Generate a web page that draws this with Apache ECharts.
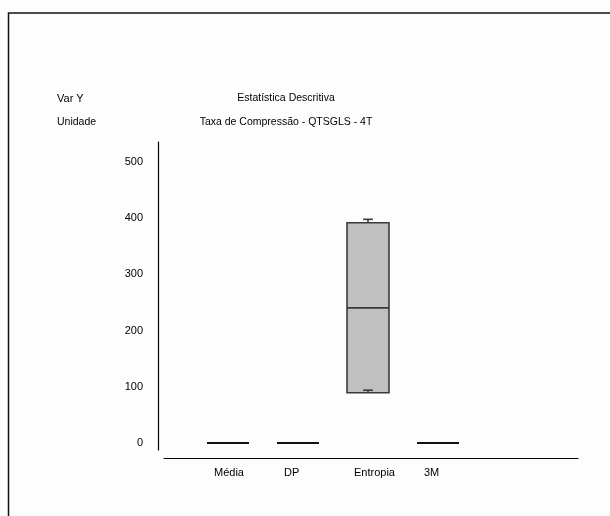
<!DOCTYPE html>
<html>
<head>
<meta charset="utf-8">
<script src="https://cdn.jsdelivr.net/npm/echarts@6/dist/echarts.min.js"></script>
<style>
html,body{margin:0;padding:0;background:#fdfdfd;}
#chart{width:610px;height:516px;}
</style>
</head>
<body>
<div id="chart"></div>
<script>
// ---- data ----
var categories = ['Média', 'DP', 'Entropia', '3M'];
var minV    = [0, 0, 94, 0];
var q1V     = [0, 0, 89.5, 0];
var medianV = [0, 0, 240.5, 0];
var q3V     = [0, 0, 392, 0];
var maxV    = [0, 0, 398, 0];
var yTicks  = [0, 100, 200, 300, 400, 500];

var FONT = 'Liberation Sans, Arial, sans-serif';
var chart = echarts.init(document.getElementById('chart'), null, {renderer: 'canvas'});

// category axis padded so the four groups sit where the original placed them
var xCats = [''].concat(categories).concat(['', '']);
var boxData = categories.map(function (c, i) {
  return [i + 1, minV[i], q1V[i], medianV[i], q3V[i], maxV[i]];
});

function renderBox(params, api) {
  var x = api.value(0);
  var pMin = api.coord([x, api.value(1)]);
  var pQ1 = api.coord([x, api.value(2)]);
  var pMed = api.coord([x, api.value(3)]);
  var pQ3 = api.coord([x, api.value(4)]);
  var pMax = api.coord([x, api.value(5)]);
  var band = api.size([1, 0])[0];
  var w = band * 0.6;
  var cap = band * 0.14;
  var cx = pMed[0];
  var flat = Math.abs(pQ1[1] - pQ3[1]) < 1;
  var stroke = flat ? '#111' : '#3a3a3a';
  var lw = flat ? 2 : 1.6;
  var children = [
    {type: 'line', shape: {x1: cx, y1: pQ3[1], x2: cx, y2: pMax[1]}, style: {stroke: stroke, lineWidth: lw}},
    {type: 'line', shape: {x1: cx - cap / 2, y1: pMax[1], x2: cx + cap / 2, y2: pMax[1]}, style: {stroke: stroke, lineWidth: lw}},
    {type: 'rect', shape: {x: cx - w / 2, y: pQ3[1], width: w, height: pQ1[1] - pQ3[1]},
      style: {fill: '#c0c0c0', stroke: stroke, lineWidth: lw}},
    {type: 'line', shape: {x1: cx - w / 2, y1: pMed[1], x2: cx + w / 2, y2: pMed[1]}, style: {stroke: stroke, lineWidth: lw}},
    {type: 'line', shape: {x1: cx, y1: pQ1[1], x2: cx, y2: pMin[1]}, style: {stroke: stroke, lineWidth: lw}},
    {type: 'line', shape: {x1: cx - cap / 2, y1: pMin[1], x2: cx + cap / 2, y2: pMin[1]}, style: {stroke: stroke, lineWidth: lw}}
  ];
  return {type: 'group', children: children};
}

var tStyle = {fontSize: 10.5, fontWeight: 'normal', color: '#000', fontFamily: FONT};
var tStyleL = {fontSize: 11, fontWeight: 'normal', color: '#000', fontFamily: FONT};

var option = {
  backgroundColor: '#fdfdfd',
  animation: false,
  textStyle: {fontFamily: FONT},
  title: [
    {text: 'Var Y', left: 57, top: 93, padding: 0, textStyle: tStyleL},
    {text: 'Unidade', left: 57, top: 117, padding: 0, textStyle: tStyle},
    {text: 'Estatística Descritiva', left: 286, top: 93, padding: 0, textAlign: 'center', textStyle: tStyle},
    {text: 'Taxa de Compressão - QTSGLS - 4T', left: 286, top: 117, padding: 0, textAlign: 'center', textStyle: tStyle}
  ],
  graphic: [
    {type: 'polyline', shape: {points: [[8.5, 516], [8.5, 13], [610, 13]]}, style: {stroke: '#111', lineWidth: 1.5, fill: null}}
  ],
  grid: [
    {left: 158, right: 32, top: 162, bottom: 73},   // data grid
    {left: 158, right: 32, top: 142, bottom: 66},   // y axis line
    {left: 164, right: 32, top: 142, bottom: 58}    // x axis line
  ],
  xAxis: [
    {
      gridIndex: 0, type: 'category', data: xCats, boundaryGap: false,
      axisLine: {show: false}, axisTick: {show: false}, splitLine: {show: false},
      axisLabel: {
        interval: 0, margin: 24, color: '#000', fontSize: 11, fontFamily: FONT,
        formatter: function (v) { return v ? '{a|' + v + '}' : ''; },
        rich: {a: {width: 28, align: 'left', fontSize: 11, color: '#000', fontFamily: FONT}}
      }
    },
    {gridIndex: 1, type: 'value', show: false},
    {
      gridIndex: 2, type: 'value', min: 0, max: 1,
      axisLine: {show: true, lineStyle: {color: '#000', width: 1.2}},
      axisTick: {show: false}, axisLabel: {show: false}, splitLine: {show: false}
    }
  ],
  yAxis: [
    {
      gridIndex: 0, type: 'value', min: yTicks[0], max: yTicks[yTicks.length - 1], interval: 100,
      axisLine: {show: false}, axisTick: {show: false}, splitLine: {show: false},
      axisLabel: {margin: 15, color: '#000', fontSize: 11, fontFamily: FONT}
    },
    {
      gridIndex: 1, type: 'value', min: 0, max: 1,
      axisLine: {show: true, lineStyle: {color: '#000', width: 1.2}},
      axisTick: {show: false}, axisLabel: {show: false}, splitLine: {show: false}
    },
    {gridIndex: 2, type: 'value', show: false}
  ],
  series: [
    {
      type: 'custom', xAxisIndex: 0, yAxisIndex: 0,
      renderItem: renderBox,
      encode: {x: 0, y: [1, 2, 3, 4, 5]},
      data: boxData,
      clip: false
    }
  ]
};
chart.setOption(option);
</script>
</body>
</html>
